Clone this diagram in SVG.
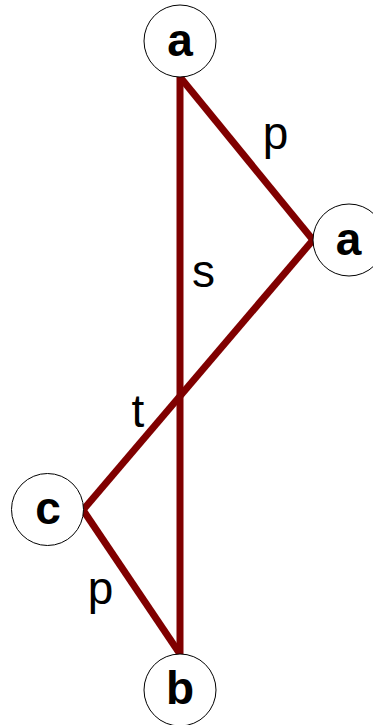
<svg xmlns="http://www.w3.org/2000/svg" width="373" height="725" viewBox="0 0 373 725">
<style>
.node circle{fill:#fff;stroke:#000;stroke-width:1}
.node text{font-family:"Liberation Sans",Arial,sans-serif;font-weight:bold;font-size:46px;text-anchor:middle;fill:#000}
.edge line{stroke:#800000;stroke-width:7;stroke-linecap:butt}
.lbl{font-family:"Liberation Sans",Arial,sans-serif;font-size:46px;text-anchor:middle;fill:#000}
</style>
<rect width="373" height="725" fill="#fff"/>
<g id="connectors" class="edge">
<line x1="180" y1="77" x2="180" y2="654"/>
<line x1="180" y1="77" x2="313" y2="240"/>
<line x1="313" y1="240" x2="83" y2="510"/>
<line x1="83" y1="510" x2="180" y2="654"/>
<text class="lbl" x="275.5" y="149">p</text>
<text class="lbl" x="203.5" y="287">s</text>
<text class="lbl" x="138" y="427">t</text>
<text class="lbl" x="100.5" y="604">p</text>
</g>
<g id="node-a1" class="node"><circle cx="180" cy="41" r="36"/><text x="180" y="56">a</text></g>
<g id="node-a2" class="node"><circle cx="349" cy="240" r="36"/><text x="348.5" y="255">a</text></g>
<g id="node-c" class="node"><circle cx="47.5" cy="509.5" r="36"/><text x="48" y="524">c</text></g>
<g id="node-b" class="node"><circle cx="180" cy="690" r="36"/><text x="180" y="704">b</text></g>
</svg>
